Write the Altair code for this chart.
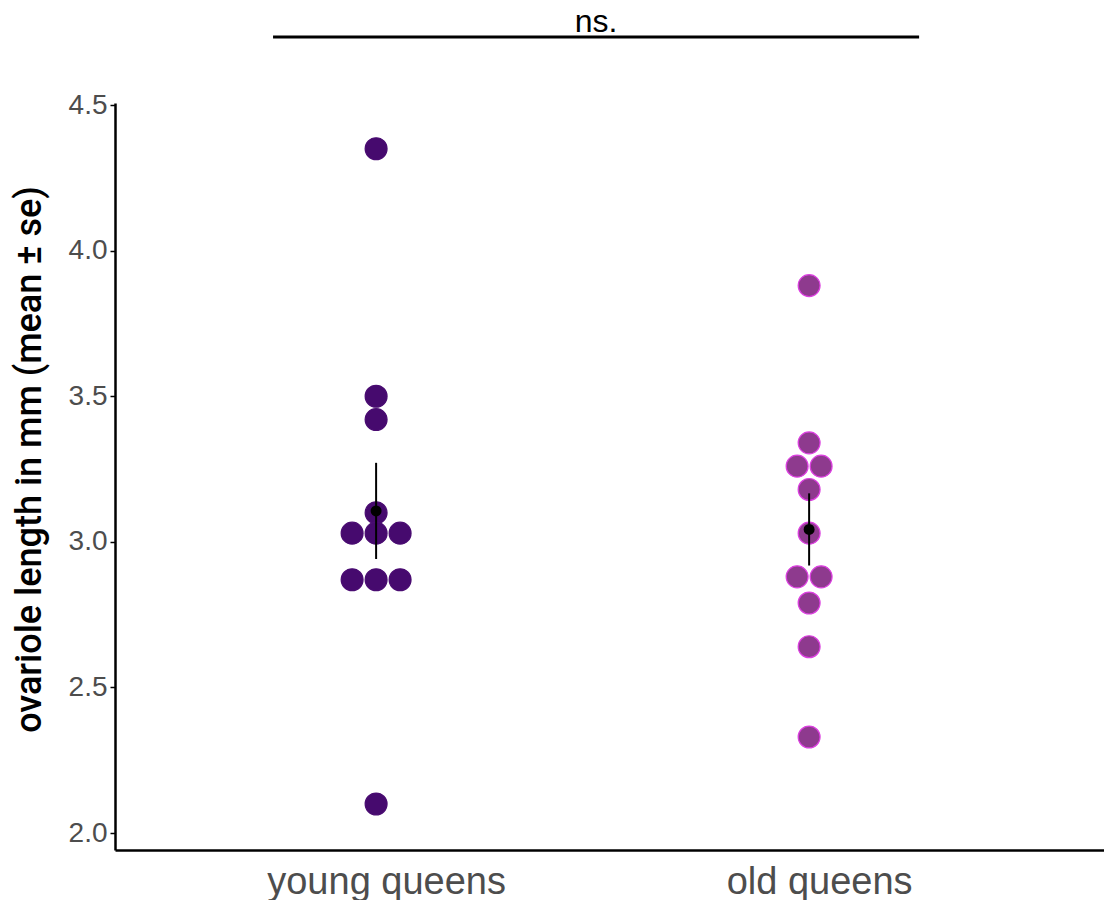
import altair as alt
import pandas as pd

# Ovariole length (mm) per queen, with the dot-stack slot each dot sits in
young_values = [4.35, 3.50, 3.42, 3.10, 3.03, 3.03, 3.03, 2.87, 2.87, 2.87, 2.10]
young_slots = [0, 0, 0, 0, -1, 0, 1, -1, 0, 1, 0]
old_values = [3.88, 3.34, 3.26, 3.26, 3.18, 3.03, 2.88, 2.88, 2.79, 2.64, 2.33]
old_slots = [0, 0, -0.5, 0.5, 0, 0, -0.5, 0.5, 0, 0, 0]

groups = ["young queens", "old queens"]
fills = ["#460a6e", "#8e3a8e"]
strokes = ["#4a0c72", "#dc3fe0"]

rows = []
for gi, (name, vals, slots) in enumerate(
    [(groups[0], young_values, young_slots), (groups[1], old_values, old_slots)], start=1
):
    for v, s in zip(vals, slots):
        rows.append({"group": name, "gidx": gi, "value": v, "slot": s})
df = pd.DataFrame(rows)

FONT = "Liberation Sans"
SLOT_STEP = 0.0554  # horizontal spacing of stacked dots, in group units

x_scale = alt.Scale(domain=[0.397, 2.681], nice=False, zero=False)
y_scale = alt.Scale(domain=[1.942, 4.507], nice=False, zero=False)

x_axis = alt.Axis(
    values=[1, 2],
    labelExpr="datum.value == 1 ? 'young queens' : 'old queens'",
    title=None,
    grid=False,
    ticks=False,
    domainColor="black",
    domainWidth=2.5,
    labelFont=FONT,
    labelFontSize=38,
    labelColor="#4d4d4d",
    labelPadding=13,
    labelOffset=10,
    labelLimit=600,
)
y_axis = alt.Axis(
    values=[2.0, 2.5, 3.0, 3.5, 4.0, 4.5],
    format=".1f",
    title="ovariole length in mm (mean ± se)",
    grid=False,
    domainColor="black",
    domainWidth=2.5,
    tickColor="black",
    tickWidth=1.5,
    tickSize=5,
    labelFont=FONT,
    labelFontSize=28,
    labelColor="#4d4d4d",
    labelPadding=3,
    titleFont="Roboto",
    titleFontSize=36,
    titleFontWeight=500,
    titleColor="black",
    titleX=-75,
    titleY=356,
    titleBaseline="alphabetic",
)

base = alt.Chart(df)

dots = base.transform_calculate(
    xpos=f"datum.gidx + datum.slot * {SLOT_STEP}"
).mark_circle(size=480, opacity=1, strokeWidth=1.2).encode(
    x=alt.X("xpos:Q", scale=x_scale, axis=x_axis),
    y=alt.Y("value:Q", scale=y_scale, axis=y_axis),
    fill=alt.Fill("group:N", scale=alt.Scale(domain=groups, range=fills), legend=None),
    stroke=alt.Stroke("group:N", scale=alt.Scale(domain=groups, range=strokes), legend=None),
)

summary = base.transform_aggregate(
    mean="mean(value)", se="stderr(value)", groupby=["gidx"]
).transform_calculate(lo="datum.mean - datum.se", hi="datum.mean + datum.se")

err = summary.mark_rule(color="black", strokeWidth=2).encode(
    x=alt.X("gidx:Q", scale=x_scale),
    y=alt.Y("lo:Q", scale=y_scale),
    y2="hi:Q",
)
mean_pt = summary.mark_circle(size=120, color="black", opacity=1).encode(
    x=alt.X("gidx:Q", scale=x_scale),
    y=alt.Y("mean:Q", scale=y_scale),
)

# significance bracket above the panel
bracket_df = pd.DataFrame({"x1": [0.762], "x2": [2.254], "label": ["ns."]})
bracket = alt.Chart(bracket_df).mark_rule(color="black", strokeWidth=3, clip=False).encode(
    x=alt.X("x1:Q", scale=x_scale),
    x2="x2:Q",
    y=alt.value(-66),
)
bracket_text = alt.Chart(bracket_df).transform_calculate(
    xm="(datum.x1 + datum.x2) / 2"
).mark_text(font=FONT, fontSize=32, color="black", baseline="alphabetic", clip=False).encode(
    x=alt.X("xm:Q", scale=x_scale),
    y=alt.value(-71),
    text="label:N",
)

chart = alt.layer(dots, err, mean_pt, bracket, bracket_text).properties(
    width=989,
    height=747,
    autosize=alt.AutoSizeParams(type="none"),
    padding={"left": 115, "top": 103, "right": 0, "bottom": 50},
    background="white",
).configure_view(stroke=None)

chart.save("out.html", embed_options={"renderer": "svg", "actions": False})
